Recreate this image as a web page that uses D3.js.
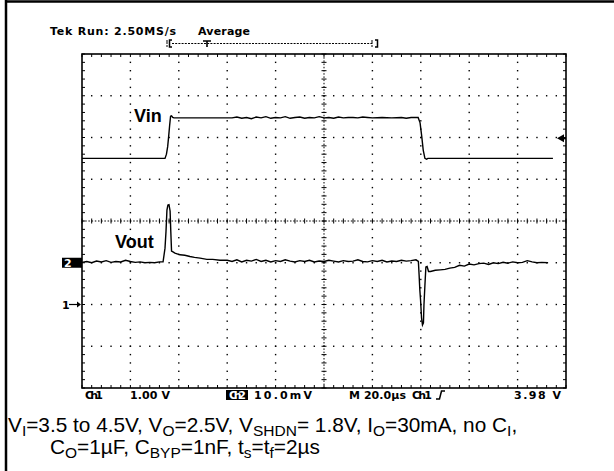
<!DOCTYPE html>
<html>
<head>
<meta charset="utf-8">
<script src="https://cdn.jsdelivr.net/npm/d3@7"></script>
<style>
  body { margin: 0; background: #fff; }
  svg { display: block; }
  .osc { font-family: "DejaVu Sans", sans-serif; font-weight: bold; font-size: 11px; fill: #000; }
  .lbl { font-family: "Liberation Sans", Arial, sans-serif; font-weight: bold; font-size: 18px; fill: #000; }
  .cap { font-family: "Liberation Sans", Arial, sans-serif; font-size: 20.8px; fill: #000; }
</style>
</head>
<body>
<svg id="chart" width="614" height="471"></svg>
<script>
// Ch1 (Vin) trace: [time in us, volts]
var vinTrace = [
  [0, 3.50], [34.3, 3.50], [34.9, 3.60], [35.4, 3.78], [35.8, 4.02], [36.2, 4.28], [36.6, 4.51],
  [37.0, 4.52], [37.5, 4.48], [38, 4.47], [50, 4.47], [62, 4.47], [64, 4.49], [66, 4.46],
  [68, 4.48], [70, 4.45], [72, 4.49], [74, 4.47], [76, 4.50], [78, 4.46], [80, 4.48], [82, 4.47],
  [84, 4.50], [86, 4.46], [88, 4.48], [90, 4.49], [92, 4.46], [94, 4.48], [96, 4.47], [98, 4.50],
  [100, 4.47], [102, 4.48], [104, 4.46], [106, 4.49], [108, 4.47], [110, 4.48], [112, 4.48],
  [114, 4.47], [116, 4.49], [118, 4.48], [120, 4.47], [124, 4.48], [128, 4.47], [132, 4.48],
  [134, 4.46], [136, 4.48], [138.9, 4.48], [139.7, 4.35], [140.4, 4.02], [141.0, 3.70],
  [141.7, 3.50], [142.4, 3.48], [142.9, 3.50], [194.6, 3.50]
];

// Ch2 (Vout, AC) trace: [time in us, millivolts]
var voutTrace = [
  [0, 0.1], [2, 0.3], [4, 0.0], [6, 0.4], [8, 0.2], [10, 0.5], [12, 0.1], [14, 0.3], [16, 0.2],
  [18, 0.6], [20, 0.3], [22, 0.1], [24, 0.2], [26, 0.0], [28, 0.1], [30, 0.0], [32, 0.2], [33.5, 0.2],
  [34.3, 3.5], [34.7, 7.4], [35.1, 12.6], [35.5, 13.8], [35.95, 13.9], [36.4, 12.4], [36.7, 7.4],
  [37.0, 2.8], [37.6, 2.6], [38.4, 2.3], [40.5, 1.9], [42.5, 1.8], [44.6, 1.5], [46.5, 1.3],
  [48.8, 1.1], [51.6, 0.8], [54, 0.8], [57, 0.6], [60, 0.6], [62, 0.3], [64, 0.7], [66, 0.2],
  [68, 0.6], [70, 0.4], [72, 0.8], [74, 0.3], [76, 0.6], [78, 0.2], [80, 0.5], [82, 0.3], [84, 0.7],
  [86, 0.4], [88, 0.2], [90, 0.5], [92, 0.3], [94, 0.6], [96, 0.2], [98, 0.4], [100, 0.3], [102, 0.6],
  [104, 0.4], [106, 0.2], [108, 0.5], [110, 0.3], [112, 0.4], [114, 0.7], [116, 0.3], [118, 0.2],
  [120, 0.5], [122, 0.3], [124, 0.6], [126, 0.2], [128, 0.4], [130, 0.3], [132, 0.6], [134, 0.4],
  [136, 0.5], [138, 0.7], [139, 0.3], [139.3, -2.9], [139.6, -6.5], [139.9, -8.9], [140.3, -13.2],
  [140.7, -14.9], [141.1, -14.4], [141.3, -10.1], [141.7, -5.4], [142.1, -1.0], [142.6, -0.9],
  [143.2, -2.1], [144, -2.1], [146, -1.8], [148, -1.7], [150, -1.6], [152, -1.3], [154, -1.1],
  [156, -0.6], [158, -0.8], [160, -0.3], [162, -0.5], [164, -0.2], [166, -0.1], [168, -0.4],
  [170, 0.0], [172, -0.2], [174, 0.1], [176, -0.1], [178, 0.2], [180, 0.0], [182, 0.1], [184, 0.5],
  [186, 0.2], [188, 0.0], [190, 0.1], [192.6, 0.0]
];

var headerLabels = ["Tek Run: 2.50MS/s", "Average"];
var footerLabels = ["Ch1", "1.00 V", "Ch2", "10.0mV", "M 20.0\u00b5s", "Ch1", "3.98 V"];
var captionLine1 = [["V", 0], ["I", 1], ["=3.5 to 4.5V, V", 0], ["O", 1], ["=2.5V, V", 0], ["SHDN", 1],
  ["= 1.8V, I", 0], ["O", 1], ["=30mA, no C", 0], ["I", 1], [",", 0]];
var captionLine2 = [["C", 0], ["O", 1], ["=1\u00b5F, C", 0], ["BYP", 1], ["=1nF, t", 0], ["s", 1],
  ["=t", 0], ["f", 1], ["=2\u00b5s", 0]];
var triggerLevel = 3.98;   // volts, ch1
var timeDiv = 20, voltDiv = 1, mvDiv = 10;

var svg = d3.select("#chart");
var gLeft = 82, gRight = 566, gTop = 54, gBottom = 388;

var x = d3.scaleLinear().domain([0, 10 * timeDiv]).range([gLeft, gRight]);
var y1 = d3.scaleLinear().domain([-2 * voltDiv, 6 * voltDiv]).range([gBottom, gTop]);
var y2 = d3.scaleLinear().domain([-3 * mvDiv, 5 * mvDiv]).range([gBottom, gTop]);
var gdiv = d3.scaleLinear().domain([0, 8]).range([gBottom, gTop]);

// outer frame (top + left only)
svg.append("line").attr("x1", 5).attr("x2", 614).attr("y1", 1.5).attr("y2", 1.5)
  .attr("stroke", "#000").attr("stroke-width", 2.5);
svg.append("line").attr("x1", 6).attr("x2", 6).attr("y1", 0).attr("y2", 471)
  .attr("stroke", "#000").attr("stroke-width", 2.5);

var grid = svg.append("g");
var minorX = d3.range(0, 51).map(function (i) { return x(i * timeDiv / 5); });
var minorY = d3.range(0, 41).map(function (i) { return gdiv(i / 5); });

function dot(px, py) {
  grid.append("rect").attr("x", px - 0.7).attr("y", py - 0.7).attr("width", 1.4).attr("height", 1.4).attr("fill", "#000");
}

// dotted grid lines at each major division
d3.range(1, 10).forEach(function (i) {
  if (i === 5) return;
  minorY.slice(1, -1).forEach(function (py) { dot(x(i * timeDiv), py); });
});
d3.range(1, 8).forEach(function (j) {
  if (j === 4) return;
  minorX.slice(1, -1).forEach(function (px) { dot(px, gdiv(j)); });
});

// centre cross with tick marks
var cx = x(5 * timeDiv), cy = gdiv(4);
grid.append("line").attr("x1", gLeft).attr("x2", gRight).attr("y1", cy).attr("y2", cy)
  .attr("stroke", "#000").attr("stroke-width", 1).attr("stroke-dasharray", "1.5,1.7");
grid.append("line").attr("x1", cx).attr("x2", cx).attr("y1", gTop).attr("y2", gBottom)
  .attr("stroke", "#000").attr("stroke-width", 1).attr("stroke-dasharray", "1.5,1.7");
minorX.forEach(function (px) {
  grid.append("line").attr("x1", px).attr("x2", px).attr("y1", cy - 2.5).attr("y2", cy + 2.5).attr("stroke", "#000");
  grid.append("line").attr("x1", px).attr("x2", px).attr("y1", gTop).attr("y2", gTop + 3).attr("stroke", "#000");
  grid.append("line").attr("x1", px).attr("x2", px).attr("y1", gBottom - 3).attr("y2", gBottom).attr("stroke", "#000");
});
minorY.forEach(function (py) {
  grid.append("line").attr("x1", cx - 2.5).attr("x2", cx + 2.5).attr("y1", py).attr("y2", py).attr("stroke", "#000");
  grid.append("line").attr("x1", gLeft).attr("x2", gLeft + 3).attr("y1", py).attr("y2", py).attr("stroke", "#000");
  grid.append("line").attr("x1", gRight - 3).attr("x2", gRight).attr("y1", py).attr("y2", py).attr("stroke", "#000");
});

grid.append("rect").attr("x", gLeft).attr("y", gTop).attr("width", gRight - gLeft).attr("height", gBottom - gTop)
  .attr("fill", "none").attr("stroke", "#000").attr("stroke-width", 1.6);

// traces
var line1 = d3.line().x(function (d) { return x(d[0]); }).y(function (d) { return y1(d[1]); });
var line2 = d3.line().x(function (d) { return x(d[0]); }).y(function (d) { return y2(d[1]); });
svg.append("path").attr("d", line1(vinTrace)).attr("fill", "none").attr("stroke", "#000").attr("stroke-width", 1.4);
svg.append("path").attr("d", line2(voutTrace)).attr("fill", "none").attr("stroke", "#000").attr("stroke-width", 1.4);

svg.append("text").attr("class", "lbl").attr("x", 134).attr("y", 122).text("Vin");
svg.append("text").attr("class", "lbl").attr("x", 115).attr("y", 248).text("Vout");

// channel ground markers
var g1y = y1(0), g2y = y2(0);
svg.append("text").attr("class", "osc").attr("x", 62).attr("y", g1y + 4).text("1");
svg.append("line").attr("x1", 69).attr("x2", 78).attr("y1", g1y).attr("y2", g1y).attr("stroke", "#000").attr("stroke-width", 1.2);
svg.append("path").attr("d", "M" + (gLeft - 1) + "," + g1y + "l-4,-3v6z").attr("fill", "#000");
svg.append("rect").attr("x", 62).attr("y", g2y - 5).attr("width", 20).attr("height", 10).attr("fill", "#000");
svg.append("text").attr("class", "osc").attr("x", 64).attr("y", g2y + 4).style("fill", "#fff").text("2");

// trigger level arrow on the right
var ty = y1(triggerLevel);
svg.append("path").attr("d", "M" + (gRight - 9) + "," + ty + "l7,-4v8z").attr("fill", "#000");
svg.append("line").attr("x1", gRight - 4).attr("x2", gRight).attr("y1", ty).attr("y2", ty).attr("stroke", "#000").attr("stroke-width", 2);

// header
svg.append("text").attr("class", "osc").attr("x", 50).attr("y", 35).attr("textLength", 126).text(headerLabels[0]);
svg.append("text").attr("class", "osc").attr("x", 198).attr("y", 35).attr("textLength", 52).text(headerLabels[1]);

// record-length bar
var rb = svg.append("g").attr("stroke", "#000");
rb.append("line").attr("x1", 167).attr("x2", 167).attr("y1", 40).attr("y2", 47).attr("stroke-dasharray", "4,1");
rb.append("path").attr("d", "M172,40H169.5V47H172").attr("fill", "none").attr("stroke-width", 1.5);
rb.append("line").attr("x1", 172).attr("x2", 372).attr("y1", 43.5).attr("y2", 43.5).attr("stroke-dasharray", "2,1.2");
rb.append("path").attr("d", "M203,41H211M207,41V47").attr("stroke-width", 1.6);
rb.append("line").attr("x1", 372).attr("x2", 372).attr("y1", 40).attr("y2", 47).attr("stroke-dasharray", "4,1");
rb.append("path").attr("d", "M375,40H377.5V47H375").attr("fill", "none").attr("stroke-width", 1.5);

// footer readouts
var fy = 399;
var fpos = [[85, 18], [130, 40], [229, 17], [254, 58], [349, 57], [412, 20], [514, 47]];
footerLabels.forEach(function (t, i) {
  if (i === 2) {
    svg.append("rect").attr("x", 226).attr("y", 390).attr("width", 22).attr("height", 10).attr("fill", "#000");
  }
  svg.append("text").attr("class", "osc").attr("x", fpos[i][0]).attr("y", fy).attr("textLength", fpos[i][1])
    .style("fill", i === 2 ? "#fff" : "#000").text(t);
});
// rising-edge slope symbol
svg.append("path").attr("d", "M436,399H439.5L441.5,391H445").attr("fill", "none").attr("stroke", "#000").attr("stroke-width", 1.5);

// caption with subscripts
function caption(parts, cx0, cy0) {
  var t = svg.append("text").attr("class", "cap").attr("x", cx0).attr("y", cy0);
  var shift = 0;
  parts.forEach(function (p) {
    var off = p[1] ? 3.5 : 0;
    t.append("tspan").attr("font-size", p[1] ? 15.5 : 20.8).attr("dy", off - shift).text(p[0]);
    shift = off;
  });
}
caption(captionLine1, 8, 432);
caption(captionLine2, 50, 454);
</script>
</body>
</html>
